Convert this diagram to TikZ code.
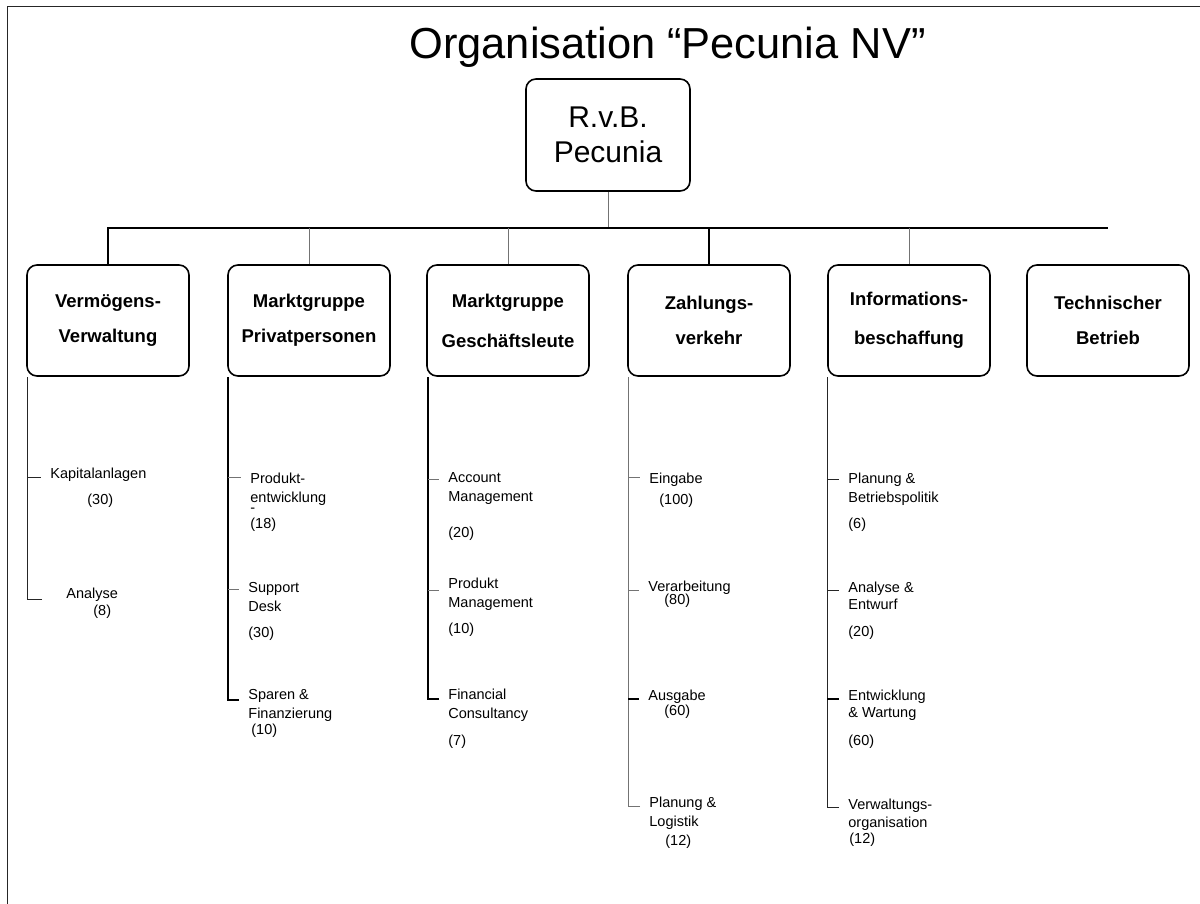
\documentclass[tikz,border=0pt]{standalone}
\usepackage{fontspec}
\setmainfont{Liberation Sans}
\usetikzlibrary{calc}

\begin{document}
\begin{tikzpicture}[x=0.5pt,y=-0.5pt,
  box/.style={draw,line width=0.8pt,rounded corners=5pt,minimum width=81pt,minimum height=55.5pt,
    align=center,inner sep=0pt,font=\fontsize{9.25}{17.5}\selectfont\bfseries},
  leaf/.style={anchor=base west,inner xsep=4.5pt,inner ysep=0pt,align=left,
    font=\fontsize{7.25}{9.5}\selectfont},
  thk/.style={line width=1pt},
  thn/.style={line width=0.5pt,black!85},
  gry/.style={line width=0.5pt,black!55}]
\useasboundingbox (0,0) rectangle (1200,904);
\draw[thn] (7.5,904) -- (7.5,6.5) -- (1200,6.5);

\node[anchor=base,font=\fontsize{21.7}{24}\selectfont] (title) at (667.5,59) {Organisation “Pecunia NV”};

\node[box,minimum width=82pt,minimum height=56pt,font=\fontsize{15}{17.5}\selectfont] (rvb) at (608,135) {R.v.B.\\Pecunia};

\node[box] (vv) at (108,320.5) {Vermögens-\\Verwaltung};
\node[box] (mp) at (309,320.5) {Marktgruppe\\Privatpersonen};
\node[box] (mg) at (508,320.5) {Marktgruppe\\[2.5pt]Geschäftsleute};
\node[box] (zv) at (709,320.5) {Zahlungs-\\verkehr};
\node[box] (ib) at (909,320.5) {Informations-\\[2pt]beschaffung};
\node[box] (tb) at (1108,320.5) {Technischer\\Betrieb};

% bus
\coordinate (busL) at (108,228);
\coordinate (busR) at (1108,228);
\draw[gry] (rvb.south) -- (rvb.south |- busL);
\draw[thk] (vv.north) -- (vv.north |- busL) -- (busR);
\draw[thk] (zv.north) -- (zv.north |- busL);
\foreach \b in {mp,mg,ib}
  \draw[gry] (\b.north) -- (\b.north |- busL);

% Vermoegensverwaltung
\coordinate (v1t) at (27,477);
\coordinate (v2t) at (27,599);
\node[leaf] (v1) at (41,504) {Kapitalanlagen\\[3.5pt]\hspace*{18.5pt}(30)};
\node[leaf,inner xsep=12pt] (v2) at (42,615) {Analyse\\[-1pt]\hspace*{13.5pt}(8)};
\draw[thn] (v2.west |- v2t) -- (v2t) -- (v1t |- vv.south);
\draw[thn] (v1t) -- (v1.west |- v1t);

% Privatpersonen
\coordinate (p1t) at (228,477);
\coordinate (p2t) at (228,589);
\coordinate (p3t) at (228,700);
\node[leaf] (p1) at (241,528) {Produkt-\\entwicklung\\[-4.5pt]-\\[-1.5pt](18)};
\node[leaf] (p2) at (239,637) {Support\\Desk\\[3.5pt](30)};
\node[leaf] (p3) at (239,734) {Sparen \&\\Finanzierung\\[-1.5pt]\hspace*{1.5pt}(10)};
\draw[thk] (p3.west |- p3t) -- (p3t) -- (p1t |- mp.south);
\foreach \n in {1,2}
  \draw[gry] (p\n t) -- (p\n.west |- p\n t);

% Geschaeftsleute
\coordinate (g1t) at (428,479);
\coordinate (g2t) at (428,590);
\coordinate (g3t) at (428,699);
\node[leaf] (g1) at (439,537) {Account\\Management\\[8.5pt](20)};
\node[leaf] (g2) at (439,633) {Produkt\\Management\\[3.5pt](10)};
\node[leaf] (g3) at (439,745) {Financial\\Consultancy\\[4pt](7)};
\draw[thk] (g3.west |- g3t) -- (g3t) -- (g1t |- mg.south);
\foreach \n in {1,2}
  \draw[gry] (g\n t) -- (g\n.west |- g\n t);

% Zahlungsverkehr
\coordinate (z1t) at (628,477);
\coordinate (z2t) at (628,590);
\coordinate (z3t) at (628,699);
\coordinate (z4t) at (628,806);
\node[leaf] (z1) at (640,504) {Eingabe\\[1pt]\hspace*{5pt}(100)};
\node[leaf] (z2) at (639,604) {Verarbeitung\\[-3pt]\hspace*{8pt}(80)};
\node[leaf] (z3) at (639,715) {Ausgabe\\[-2pt]\hspace*{8pt}(60)};
\node[leaf] (z4) at (640,845) {Planung \&\\Logistik\\\hspace*{8pt}(12)};
\draw[gry] (z4.west |- z4t) -- (z4t) -- (z1t |- zv.south);
\draw[gry] (z1t) -- (z1.west |- z1t);
\draw[gry] (z2t) -- (z2.west |- z2t);
\draw[thk] (z3t) -- (z3.west |- z3t);

% Informationsbeschaffung
\coordinate (i1t) at (827,479);
\coordinate (i2t) at (827,590);
\coordinate (i3t) at (827,699);
\coordinate (i4t) at (827,807);
\node[leaf] (i1) at (839,528) {Planung \&\\Betriebspolitik\\[3.5pt](6)};
\node[leaf] (i2) at (839,636) {Analyse \&\\[-1pt]Entwurf\\[4pt](20)};
\node[leaf] (i3) at (839,745) {Entwicklung\\[-1pt]\& Wartung\\[4.5pt](60)};
\node[leaf] (i4) at (839,843) {Verwaltungs-\\[-0.5pt]organisation\\[-1.5pt]\hspace*{0.5pt}(12)};
\draw[thn] (i4.west |- i4t) -- (i4t) -- (i1t |- ib.south);
\draw[thn] (i1t) -- (i1.west |- i1t);
\draw[thn] (i2t) -- (i2.west |- i2t);
\draw[thk] (i3t) -- (i3.west |- i3t);
\end{tikzpicture}
\end{document}
